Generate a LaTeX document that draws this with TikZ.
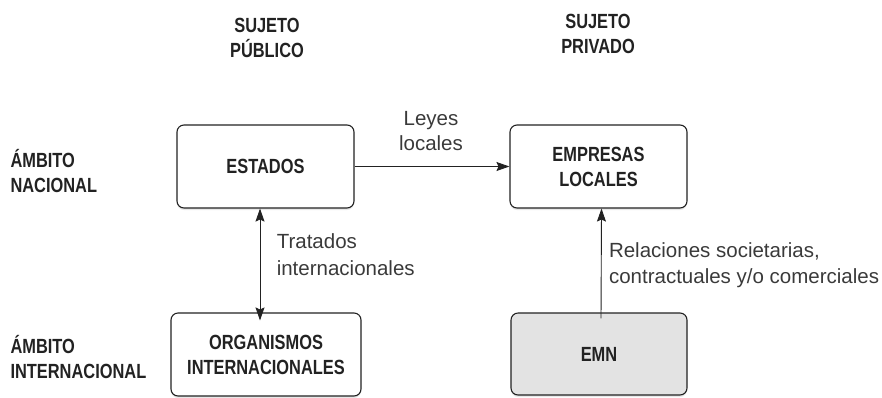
\documentclass[tikz,border=0pt]{standalone}
\usepackage{fontspec}
\setmainfont{Liberation Sans}
\newfontfamily\headfont[FakeStretch=0.80]{Liberation Sans Bold}
\usetikzlibrary{arrows.meta,shadows}
\definecolor{ink}{HTML}{222222}
\definecolor{txt}{HTML}{3A3A3A}
\definecolor{boxgray}{HTML}{E3E3E3}
\begin{document}
\begin{tikzpicture}[x=1pt,y=-1pt,
  box/.style={draw=ink,line width=1.1pt,rounded corners=7pt,fill=white,
    align=center,inner sep=0pt,font=\headfont\fontsize{20.5}{25}\selectfont,text=ink,
    drop shadow={shadow xshift=0pt,shadow yshift=-2pt,opacity=0.18}},
  head/.style={align=center,font=\headfont\fontsize{20.5}{25}\selectfont,text=ink},
  side/.style={align=left,font=\headfont\fontsize{20.5}{24.5}\selectfont,text=ink,anchor=west},
  conn/.style={draw=ink,line width=0.9pt},
  tp/.style={Stealth[length=13pt,width=9pt,inset=2pt]}
]
\useasboundingbox (0,0) rectangle (882,397);
\node[head] (sp) at (267,38) {SUJETO\\PÚBLICO};
\node[head] (spr) at (598,34) {SUJETO\\PRIVADO};
\node[side] (an) at (7,171) {ÁMBITO\\NACIONAL};
\node[side] (ai) at (7,357) {ÁMBITO\\INTERNACIONAL};

\node[box,minimum width=177pt,minimum height=83pt] (est) at (265.5,166.5) {ESTADOS};
\node[box,minimum width=177pt,minimum height=83pt] (emp) at (598.5,166.5) {EMPRESAS\\LOCALES};
\node[box,minimum width=190pt,minimum height=83pt] (org) at (266,354.5) {ORGANISMOS\\INTERNACIONALES};
\node[box,fill=boxgray,minimum width=176pt,minimum height=82pt] (emn) at (599,354) {EMN};

\draw[conn,-{Stealth[length=13pt,width=9pt,inset=2pt]}] (est.east) -- (emp.west)
  node[midway,above=1pt,align=center,xshift=-1pt,yshift=11pt,
       font=\fontsize{20.5}{25}\selectfont,text=txt] (ley) {Leyes\\locales};
\draw[conn,{Stealth[length=13pt,width=9pt,inset=2pt]}-{Stealth[length=13pt,width=9pt,inset=2pt]}]
  ([xshift=-5.5pt]est.south) -- ([xshift=-6pt,yshift=-8pt]org.north)
  node[midway,anchor=west,align=left,xshift=13pt,yshift=10pt,
       font=\fontsize{20.5}{27.5}\selectfont,text=txt] (tra) {Tratados\\internacionales};
\draw[conn,-{Stealth[length=13pt,width=9pt,inset=2pt]}] ([xshift=2pt,yshift=-6pt]emn.north) -- ([xshift=3pt]emp.south)
  node[midway,anchor=west,align=left,xshift=4pt,yshift=-2pt,
       font=\fontsize{20.5}{26}\selectfont,text=txt] (rel) {Relaciones societarias,\\contractuales y/o comerciales};
\end{tikzpicture}
\end{document}
